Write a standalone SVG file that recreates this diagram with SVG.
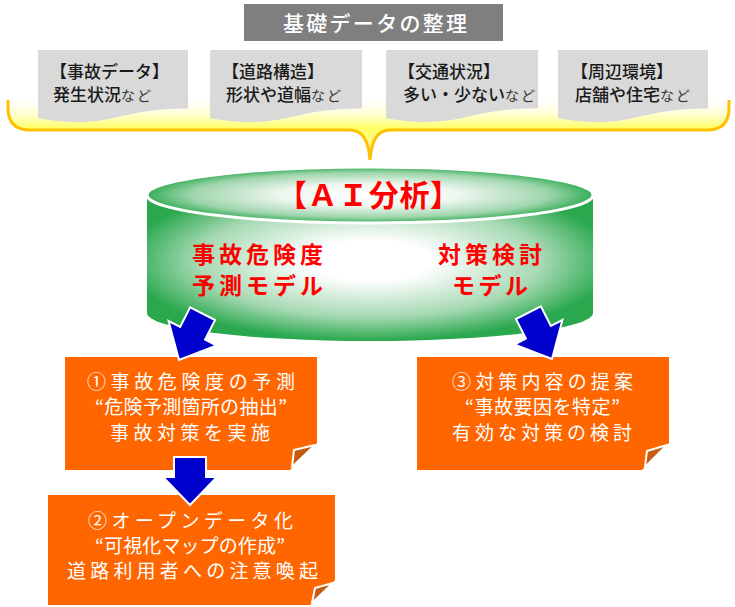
<svg xmlns="http://www.w3.org/2000/svg" width="735" height="607" viewBox="0 0 735 607">
<style>
  .jp { font-family: "Noto Sans CJK JP", "Liberation Sans", sans-serif; }
  .doc { fill: #D9D9D9; }
  .doctxt { font-size: 17px; fill: #1A1A1A; font-weight: 500; }
  .nado { font-size: 14px; fill: #333333; letter-spacing: 2px; font-weight: 400; }
  .red { fill: #FF0000; font-weight: bold; text-anchor: middle; }
  .box { fill: #FF6600; }
  .flap { fill: #C55A11; stroke: #FFFFFF; stroke-width: 2; stroke-linejoin: round; }
  .btxt { fill: #FFFFFF; font-size: 19px; text-anchor: middle; }
  .arrow { fill: #0000CC; stroke: #FFFFFF; stroke-width: 2; stroke-linejoin: miter; }
</style>
<defs>
  <linearGradient id="braceFill" gradientUnits="userSpaceOnUse" x1="0" y1="96" x2="0" y2="160">
    <stop offset="0" stop-color="#FFFFFF" stop-opacity="0"/>
    <stop offset="0.5" stop-color="#FFFF66"/>
    <stop offset="1" stop-color="#FFF6B0"/>
  </linearGradient>
  <radialGradient id="cylBody" cx="0.5" cy="0.45" r="0.55">
    <stop offset="0" stop-color="#FFFFFF"/>
    <stop offset="0.25" stop-color="#FFFFFF"/>
    <stop offset="0.7" stop-color="#A6D9B3"/>
    <stop offset="1" stop-color="#2AA84E"/>
  </radialGradient>
  <radialGradient id="cylTop" cx="0.5" cy="0.5" r="0.5">
    <stop offset="0" stop-color="#FFFFFF"/>
    <stop offset="0.4" stop-color="#EEF7F0"/>
    <stop offset="0.8" stop-color="#9ED5AC"/>
    <stop offset="1" stop-color="#36AE59"/>
  </radialGradient>
  <polygon id="arr" points="0,0 -27,-30 -14,-30 -14,-52 14,-52 14,-30 27,-30"/>
  <polygon id="arrDown" points="0,0 -27,-28 -16,-28 -16,-48 16,-48 16,-28 27,-28"/>
</defs>

<rect width="735" height="607" fill="#FFFFFF"/>

<g id="brace">
  <path d="M8,98 L8,108 Q8,130 30,130 L350,130 Q368,130 370,160 Q372,130 390,130 L707,130 Q729,130 729,108 L729,98 Z" fill="url(#braceFill)" stroke="none"/>
  <path d="M8,100 L8,108 Q8,130 30,130 L350,130 Q368,130 370,160 Q372,130 390,130 L707,130 Q729,130 729,108 L729,100" fill="none" stroke="#FFC000" stroke-width="3"/>
</g>

<g id="title">
  <rect x="244" y="4" width="259" height="37" fill="#7F7F7F"/>
  <text class="jp" x="375" y="31" font-size="21" font-weight="500" fill="#FFFFFF" text-anchor="middle" textLength="184" lengthAdjust="spacing">基礎データの整理</text>
</g>

<g id="doc1">
  <path class="doc" d="M38,50 H188 V108.4 C113,108.4 113,130.8 38,118.2 Z"/>
  <text class="jp doctxt" x="50" y="78">【事故データ】</text>
  <text class="jp doctxt" x="53" y="101" font-size="16">発生状況<tspan class="nado">など</tspan></text>
</g>
<g id="doc2">
  <path class="doc" d="M210,50 H362 V108.4 C286,108.4 286,130.8 210,118.2 Z"/>
  <text class="jp doctxt" x="222" y="78">【道路構造】</text>
  <text class="jp doctxt" x="226" y="101" font-size="16">形状や道幅<tspan class="nado">など</tspan></text>
</g>
<g id="doc3">
  <path class="doc" d="M386,50 H538 V108.4 C462,108.4 462,130.8 386,118.2 Z"/>
  <text class="jp doctxt" x="398" y="78">【交通状況】</text>
  <text class="jp doctxt" x="403" y="101" font-size="16">多い・少ない<tspan class="nado">など</tspan></text>
</g>
<g id="doc4">
  <path class="doc" d="M558,50 H708 V108.4 C633,108.4 633,130.8 558,118.2 Z"/>
  <text class="jp doctxt" x="571" y="78">【周辺環境】</text>
  <text class="jp doctxt" x="575" y="101" font-size="16">店舗や住宅<tspan class="nado">など</tspan></text>
</g>

<g id="ai">
  <path d="M147,195 V313 A223,28 0 0 0 593,313 V195 Z" fill="url(#cylBody)"/>
  <ellipse cx="370" cy="195" rx="223" ry="28" fill="url(#cylTop)" stroke="#FFFFFF" stroke-width="3"/>
  <text class="jp red" x="368.5" y="206" font-size="30" textLength="183" lengthAdjust="spacing">【ＡＩ分析】</text>
  <text class="jp red" x="257.5" y="263" font-size="23" textLength="131" lengthAdjust="spacing">事故危険度</text>
  <text class="jp red" x="257.5" y="294" font-size="23" textLength="131" lengthAdjust="spacing">予測モデル</text>
  <text class="jp red" x="490" y="263" font-size="23" textLength="104" lengthAdjust="spacing">対策検討</text>
  <text class="jp red" x="490" y="294" font-size="23" textLength="76" lengthAdjust="spacing">モデル</text>
</g>

<g id="box1">
  <path class="box" d="M65,357 H317 V443 L290,470 H65 Z"/>
  <polygon class="flap" points="315,445 294,450 292,467"/>
  <text class="jp btxt" x="191" y="389" textLength="208" lengthAdjust="spacing">①事故危険度の予測</text>
  <text class="jp btxt" x="191" y="414" textLength="192" lengthAdjust="spacing">“危険予測箇所の抽出”</text>
  <text class="jp btxt" x="190" y="440" textLength="160" lengthAdjust="spacing">事故対策を実施</text>
</g>

<g id="box2">
  <path class="box" d="M48,495 H335 V580 L310,605 H48 Z"/>
  <polygon class="flap" points="333,583 315,588 312,603"/>
  <text class="jp btxt" x="190.5" y="528" textLength="205" lengthAdjust="spacing">②オープンデータ化</text>
  <text class="jp btxt" x="190" y="553" textLength="190" lengthAdjust="spacing">“可視化マップの作成”</text>
  <text class="jp btxt" x="192.5" y="578" textLength="251" lengthAdjust="spacing">道路利用者への注意喚起</text>
</g>

<g id="box3">
  <path class="box" d="M417,357 H669 V443 L642,470 H417 Z"/>
  <polygon class="flap" points="667,445 647,451 645,467"/>
  <text class="jp btxt" x="542.5" y="389" textLength="181" lengthAdjust="spacing">③対策内容の提案</text>
  <text class="jp btxt" x="542.5" y="414" textLength="155" lengthAdjust="spacing">“事故要因を特定”</text>
  <text class="jp btxt" x="542" y="440" textLength="180" lengthAdjust="spacing">有効な対策の検討</text>
</g>

<g id="connectors">
  <use href="#arr" class="arrow" transform="translate(179,360) rotate(27)"/>
  <use href="#arr" class="arrow" transform="translate(552,359) rotate(-27)"/>
  <use href="#arrDown" class="arrow" transform="translate(190,505)"/>
</g>
</svg>
